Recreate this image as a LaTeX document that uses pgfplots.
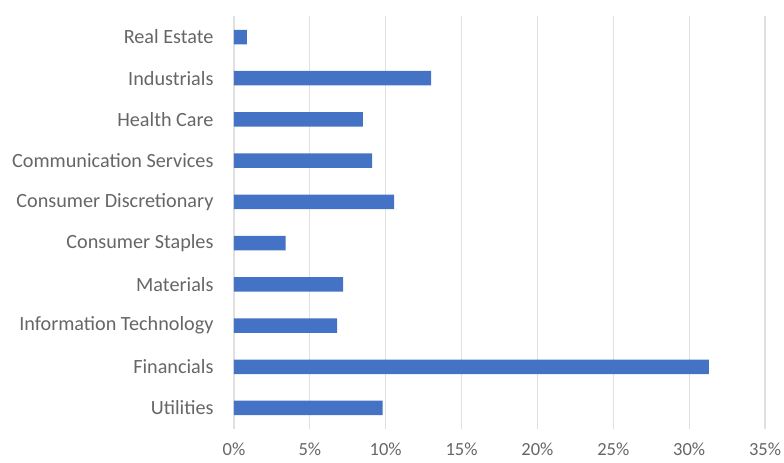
\documentclass[border=0pt]{standalone}
\usepackage{pgfplots}
\pgfplotsset{compat=1.18}
\usepackage{fontspec}
\setmainfont{Carlito}
\definecolor{barblue}{HTML}{4472C4}
\definecolor{gridgray}{HTML}{E0E0E0}
\definecolor{txtgray}{HTML}{666666}
\begin{document}
\begin{tikzpicture}
\path[use as bounding box] (-234bp,-34.4bp) rectangle (550bp,428.6bp);
\begin{axis}[
  at={(0,0)}, anchor=south west,
  scale only axis, width=531bp, height=412.2bp,
  xbar, bar width=14.5bp,
  xmin=0, xmax=35, ymin=-0.5, ymax=9.5,
  xtick={0,5,...,35},
  xticklabel={\pgfmathprintnumber{\tick}\%},
  ytick={0,...,9},
  yticklabels={Utilities,Financials,Information Technology,Materials,Consumer Staples,Consumer Discretionary,Communication Services,Health Care,Industrials,Real Estate},
  xmajorgrids, major grid style={gridgray, line width=1.2pt},
  axis line style={draw=none},
  axis x line*=bottom, axis y line*=left,
  major tick length=0pt,
  tick label style={text=txtgray},
  xticklabel style={font=\fontsize{18.5bp}{20bp}\selectfont, yshift=-11bp},
  yticklabel style={font=\fontsize{20.2bp}{22bp}\selectfont, xshift=-17bp},
  /pgf/number format/assume math mode=true,
]
\addplot[fill=barblue, draw=none] coordinates {
(9.8,0) (31.3,1) (6.8,2) (7.2,3) (3.4,4) (10.55,5) (9.1,6) (8.5,7) (13.0,8) (0.85,9)
};
\end{axis}
\end{tikzpicture}
\end{document}
